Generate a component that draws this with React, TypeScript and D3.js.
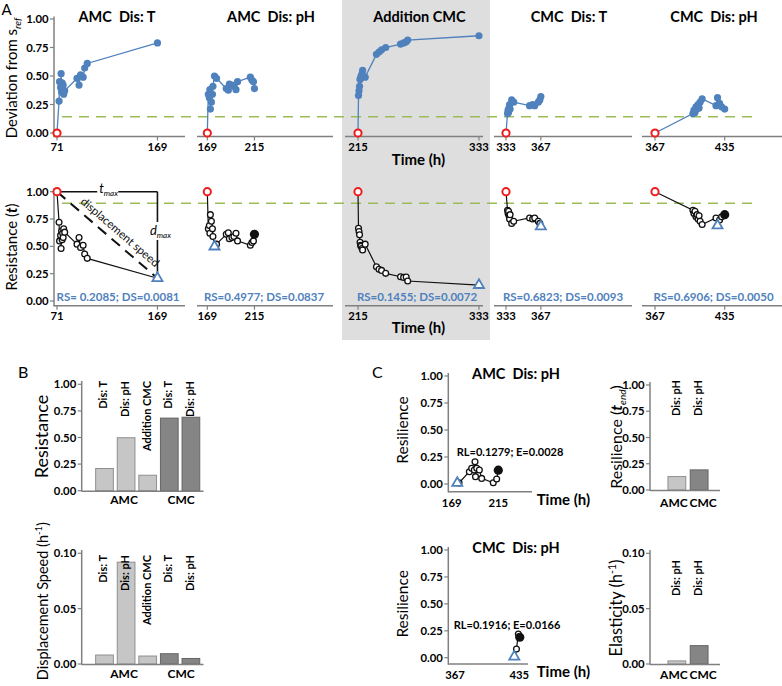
import React from "react";
import * as d3 from "d3";

const FONT = "Lato, 'Open Sans', sans-serif";
const BLUE = "#4f81bd";
const RED = "#ee1c1c";
const GREEN = "#9bbb59";
const AXIS = "#808080";
const LIGHT = "#c6c6c6";
const DARK = "#858585";

// ---------- panel A: deviation from s_ref and resistance over time ----------
const panelNames = ["AMC  Dis: T", "AMC  Dis: pH", "Addition CMC", "CMC  Dis: T", "CMC  Dis: pH"];
const panelStart = [71, 169, 215, 333, 367];
const panelEnd = [169, 215, 333, 367, 435];

const time1 = [71, 73, 73.5, 74.5, 75, 75.5, 76, 76.5, 77, 77.5, 78.5, 90.5, 92.5, 94, 96.5, 98, 100.5, 169];
const dev1 = [0, 0.28, 0.45, 0.4, 0.52, 0.36, 0.44, 0.38, 0.42, 0.34, 0.37, 0.48, 0.42, 0.51, 0.49, 0.57, 0.61, 0.79];
const res1 = [1, 0.72, 0.55, 0.6, 0.48, 0.64, 0.56, 0.62, 0.58, 0.66, 0.63, 0.52, 0.58, 0.49, 0.51, 0.43, 0.39, 0.2085];

const time2 = [169, 170, 171, 171.5, 172, 173, 174, 174.5, 176, 178, 187.5, 189.5, 190.5, 193, 195, 197, 198.5, 211, 212.5, 214, 215];
const dev2 = [0, 0.34, 0.31, 0.38, 0.21, 0.27, 0.34, 0.41, 0.5, 0.48, 0.39, 0.375, 0.43, 0.42, 0.41, 0.38, 0.45, 0.49, 0.465, 0.45, 0.39];
const res2 = [1, 0.66, 0.69, 0.62, 0.79, 0.73, 0.66, 0.59, 0.4977, 0.52, 0.61, 0.625, 0.57, 0.58, 0.59, 0.62, 0.55, 0.51, 0.535, 0.55, 0.61];

const time3 = [215, 215.5, 216, 216.5, 217, 217.5, 218, 219, 219.5, 222, 233, 235.5, 238, 242, 256.5, 259.5, 262, 263.5, 333];
const dev3 = [0, 0.33, 0.37, 0.41, 0.47, 0.48, 0.5, 0.52, 0.55, 0.49, 0.69, 0.71, 0.73, 0.75, 0.78, 0.79, 0.8, 0.815, 0.853];
const res3 = [1, 0.665, 0.635, 0.605, 0.537, 0.51, 0.5, 0.48, 0.466, 0.52, 0.314, 0.29, 0.28, 0.253, 0.222, 0.216, 0.22, 0.183, 0.1455];

const time4 = [333, 334.5, 335, 335.5, 336, 336.5, 337, 338.5, 340.5, 356, 359, 361, 364.5, 366, 367];
const dev4 = [0, 0.17, 0.2, 0.18, 0.22, 0.25, 0.21, 0.29, 0.27, 0.24, 0.25, 0.24, 0.27, 0.29, 0.32];
const res4 = [1, 0.83, 0.8, 0.82, 0.78, 0.75, 0.79, 0.71, 0.73, 0.76, 0.75, 0.76, 0.73, 0.71, 0.6823];

const time5 = [367, 404, 405, 406, 407, 408, 409, 410, 411, 413, 426.5, 428, 430, 432, 435];
const dev5 = [0, 0.17, 0.2, 0.18, 0.23, 0.21, 0.25, 0.22, 0.27, 0.3, 0.24, 0.31, 0.26, 0.23, 0.21];
const res5 = [1, 0.83, 0.8, 0.82, 0.77, 0.79, 0.75, 0.78, 0.73, 0.7, 0.76, 0.6906, 0.74, 0.77, 0.79];

const rsLabels = [
  "RS= 0.2085; DS=0.0081",
  "RS=0.4977; DS=0.0837",
  "RS=0.1455; DS=0.0072",
  "RS=0.6823; DS=0.0093",
  "RS=0.6906; DS=0.0050",
];
const devThreshold = 0.143;
const resThreshold = 0.894;

// ---------- panel B: resistance and displacement speed ----------
const barNames = ["Dis: T", "Dis: pH", "Addition CMC", "Dis: T", "Dis: pH"];
const barSystems = ["AMC", "AMC", "AMC", "CMC", "CMC"];
const resistanceValues = [0.2085, 0.4977, 0.1455, 0.6823, 0.6906];
const speedValues = [0.0081, 0.092, 0.0072, 0.0093, 0.005];

// ---------- panel C: resilience and elasticity ----------
const cTitles = ["AMC  Dis: pH", "CMC  Dis: pH"];
const cTimeTicks = [[169, 215], [367, 435]];
const resilTime1 = [174.5, 176.2, 186.4, 188.7, 191.3, 192, 192.5, 193.7, 196.3, 198.6, 210, 213.4, 215];
const resil1 = [0, 0.01, 0.114, 0.145, 0.13, 0.206, 0.068, 0.145, 0.13, 0.052, 0.012, 0.046, 0.128];
const resilTime2 = [429.7, 432, 434, 435.5];
const resil2 = [0, 0.08, 0.22, 0.19];
const rlLabels = ["RL=0.1279; E=0.0028", "RL=0.1916; E=0.0166"];
const cGroups = ["AMC", "CMC"];
const resilEndValues = [0.1279, 0.1916];
const elasticityValues = [0.0028, 0.0166];

const series = [
  { time: time1, dev: dev1, res: res1 },
  { time: time2, dev: dev2, res: res2 },
  { time: time3, dev: dev3, res: res3 },
  { time: time4, dev: dev4, res: res4 },
  { time: time5, dev: dev5, res: res5 },
];
const resilSeries = [
  { time: resilTime1, val: resil1 },
  { time: resilTime2, val: resil2 },
];

// layout
const startPx = [57, 207.3, 358, 506, 655];
const HOUR_PX = 1.025;
const axisSpan = [[54, 185], [197, 333], [345, 483], [494, 632], [642, 782]];
const titleX = [117, 271, 419.5, 569, 714];
const rsX = [118, 264, 417, 563, 713.5];
const TOP_AXIS_Y = 136.5;
const BOT_AXIS_Y = 305.7;
const PRE = { whiteSpace: "pre" } as any;

const yDev = d3.scaleLinear().domain([0, 1]).range([133, 19]);
const yRes = d3.scaleLinear().domain([0, 1]).range([301, 191.7]);
const fmt2 = d3.format(".2f");
const tri = d3.symbol(d3.symbolTriangle, 44)() as string;

function YAxis({ x, scale, ticks, top, bottom }: any) {
  return (
    <g>
      <line x1={x} x2={x} y1={top} y2={bottom} stroke={AXIS} strokeWidth={1.5} />
      {ticks.map((t: number) => (
        <g key={t}>
          <line x1={x - 4} x2={x} y1={scale(t)} y2={scale(t)} stroke={AXIS} strokeWidth={1.2} />
          <text x={x - 5.5} y={scale(t)} dy="0.36em" textAnchor="end" fontSize={11.3} fontWeight="bold">
            {fmt2(t)}
          </text>
        </g>
      ))}
    </g>
  );
}

function TimeAxis({ x, ticks, y, x0, x1 }: any) {
  return (
    <g>
      <line x1={x0} x2={x1} y1={y} y2={y} stroke={AXIS} strokeWidth={1.5} />
      {ticks.map((t: number) => (
        <g key={t}>
          <line x1={x(t)} x2={x(t)} y1={y} y2={y + 4} stroke={AXIS} strokeWidth={1.2} />
          <text x={x(t)} y={y + 14.5} textAnchor="middle" fontSize={11.3} fontWeight="bold">
            {t}
          </text>
        </g>
      ))}
    </g>
  );
}

function SeriesPanel({ i }: { i: number }) {
  const s = series[i];
  const x = d3
    .scaleLinear()
    .domain([panelStart[i], panelEnd[i]])
    .range([startPx[i], startPx[i] + HOUR_PX * (panelEnd[i] - panelStart[i])]);
  const devLine = d3.line<number>().x((_, j) => x(s.time[j])).y((d) => yDev(d));
  const resLine = d3.line<number>().x((_, j) => x(s.time[j])).y((d) => yRes(d));
  const minIdx = d3.minIndex(s.res);
  const last = s.res.length - 1;
  const ticks = [panelStart[i], panelEnd[i]];

  // annotation for the first panel
  let notes = null;
  if (i === 0) {
    const ax0 = x(s.time[0]);
    const ay0 = yRes(s.res[0]);
    const ax1 = x(s.time[minIdx]);
    const ay1 = yRes(s.res[minIdx]);
    const ang = (Math.atan2(ay1 - ay0, ax1 - ax0) * 180) / Math.PI;
    const len = Math.hypot(ax1 - ax0, ay1 - ay0);
    const ux = (ax1 - ax0) / len;
    const uy = (ay1 - ay0) / len;
    const f = 0.56;
    const tx = ax0 + (ax1 - ax0) * f + uy * 6.5;
    const ty = ay0 + (ay1 - ay0) * f - ux * 6.5;
    const midX = (ax0 + ax1) / 2;
    const midY = (ay0 + ay1) / 2 - 3;
    notes = (
      <g>
        <line x1={ax0} x2={ax1} y1={ay0} y2={ay0} stroke="#111" strokeWidth={1.6} />
        <line x1={ax1} x2={ax1} y1={ay0} y2={ay1} stroke="#111" strokeWidth={1.6} />
        <line x1={ax0} x2={ax1} y1={ay0} y2={ay1} stroke="#111" strokeWidth={2} strokeDasharray="11 7" />
        <rect x={midX - 10} y={ay0 - 7} width={21} height={13} fill="white" />
        <text x={midX - 8} y={ay0 + 1} fontSize={13} fontStyle="italic">
          t<tspan fontSize={8} dy={3}>max</tspan>
        </text>
        <rect x={ax1 - 8} y={midY - 10} width={17} height={18} fill="white" />
        <text x={ax1 - 7.5} y={midY + 3} fontSize={13} fontStyle="italic">
          d<tspan fontSize={8} dy={3}>max</tspan>
        </text>
        <text
          transform={`translate(${tx},${ty}) rotate(${ang})`}
          textAnchor="middle"
          fontSize={11.5}
          fill="#111"
        >
          displacement speed
        </text>
      </g>
    );
  }

  return (
    <g>
      <text x={titleX[i]} y={22} textAnchor="middle" fontWeight="bold" fontSize={14.5} style={PRE}>
        {panelNames[i]}
      </text>
      <TimeAxis x={x} ticks={ticks} y={TOP_AXIS_Y} x0={axisSpan[i][0]} x1={axisSpan[i][1]} />
      <TimeAxis x={x} ticks={ticks} y={BOT_AXIS_Y} x0={axisSpan[i][0]} x1={axisSpan[i][1]} />

      {/* deviation */}
      <path d={devLine(s.dev) as string} fill="none" stroke={BLUE} strokeWidth={1.3} />
      {s.dev.map((d, j) =>
        j === 0 ? null : <circle key={j} cx={x(s.time[j])} cy={yDev(d)} r={3.6} fill={BLUE} />
      )}
      <circle cx={x(s.time[0])} cy={yDev(s.dev[0])} r={3.6} fill="white" stroke={RED} strokeWidth={2} />

      {/* resistance */}
      {notes}
      <path d={resLine(s.res) as string} fill="none" stroke="#111" strokeWidth={1.2} />
      {s.res.map((d, j) =>
        j === 0 || j === minIdx || j === last ? null : (
          <circle key={j} cx={x(s.time[j])} cy={yRes(d)} r={2.9} fill="white" stroke="#111" strokeWidth={1.3} />
        )
      )}
      {last !== minIdx && <circle cx={x(s.time[last])} cy={yRes(s.res[last])} r={4.6} fill="#111" />}
      <path
        d={tri}
        transform={`translate(${x(s.time[minIdx])},${yRes(s.res[minIdx])})`}
        fill="white"
        stroke={BLUE}
        strokeWidth={1.8}
      />
      <circle cx={x(s.time[0])} cy={yRes(s.res[0])} r={3.6} fill="white" stroke={RED} strokeWidth={2} />

      <text x={rsX[i]} y={300.5} textAnchor="middle" fill={BLUE} fontSize={11.5} fontWeight="bold">
        {rsLabels[i]}
      </text>
    </g>
  );
}

function BarChart({ values, names, groups, y, ticks, axisTop, x0, x1, range, pad, labelTop, groupY, groupPos }: any) {
  const n = values.length;
  const xb = d3.scaleBand<number>().domain(d3.range(n)).range(range).paddingInner(pad[0]).paddingOuter(pad[1]);
  const base = y(0);
  return (
    <g>
      {values.map((v: number, k: number) => (
        <rect
          key={k}
          x={xb(k)}
          y={y(v)}
          width={xb.bandwidth()}
          height={base - y(v)}
          fill={groups[k] === "AMC" ? LIGHT : DARK}
          stroke={groups[k] === "AMC" ? "#8f8f8f" : "#666"}
          strokeWidth={1}
        />
      ))}
      <YAxis x={x0} scale={y} ticks={ticks} top={axisTop} bottom={base + 0.8} />
      <line x1={x0} x2={x1} y1={base + 0.5} y2={base + 0.5} stroke={AXIS} strokeWidth={1.5} />
      {names.map((nm: string, k: number) => (
        <text
          key={k}
          transform={`translate(${(xb(k) as number) + xb.bandwidth() / 2 - 1},${labelTop}) rotate(-90)`}
          textAnchor="end"
          dy="0.36em"
          fontSize={11}
          fontWeight="bold"
        >
          {nm}
        </text>
      ))}
      {groupPos.map((g: any) => {
        const cx = (xb(g.from) as number) / 2 + ((xb(g.to) as number) + xb.bandwidth()) / 2;
        return (
          <text key={g.name} x={cx + g.shift} y={groupY} textAnchor="middle" fontSize={12} fontWeight="bold">
            {g.name}
          </text>
        );
      })}
    </g>
  );
}

function ResilPanel({ k }: { k: number }) {
  const s = resilSeries[k];
  const tickPx = k === 0 ? [451.7, 498.3] : [455, 519.3];
  const yr = k === 0 ? [484, 376] : [657.7, 550];
  const axisY = k === 0 ? 491.7 : 664;
  const axisEnd = k === 0 ? 532 : 528;
  const axisTop = k === 0 ? 373 : 547;
  const x = d3.scaleLinear().domain(cTimeTicks[k]).range(tickPx);
  const y = d3.scaleLinear().domain([0, 1]).range(yr);
  const ln = d3.line<number>().x((_, j) => x(s.time[j])).y((d) => y(d));
  const last = s.val.length - 1;
  return (
    <g>
      <text x={516} y={axisTop + 6} textAnchor="middle" fontWeight="bold" fontSize={14.5} style={PRE}>
        {cTitles[k]}
      </text>
      <YAxis x={448.3} scale={y} ticks={[0, 0.25, 0.5, 0.75, 1]} top={axisTop} bottom={axisY + 0.8} />
      <line x1={448.3} x2={axisEnd} y1={axisY} y2={axisY} stroke={AXIS} strokeWidth={1.5} />
      {cTimeTicks[k].map((t) => (
        <text key={t} x={x(t)} y={axisY + 15} textAnchor="middle" fontSize={11.3} fontWeight="bold">
          {t}
        </text>
      ))}
      <text x={563.4} y={axisY + 13} textAnchor="middle" fontSize={15} fontWeight="bold">
        Time (h)
      </text>
      <text x={k === 0 ? 510 : 507} y={k === 0 ? 455.5 : 629} textAnchor="middle" fontSize={11} fontWeight="bold">
        {rlLabels[k]}
      </text>
      <text
        transform={`translate(407.5,${(yr[0] + yr[1]) / 2}) rotate(-90)`}
        textAnchor="middle"
        fontSize={15.5}
      >
        Resilience
      </text>
      <path d={ln(s.val) as string} fill="none" stroke="#111" strokeWidth={1.2} />
      {s.val.map((d, j) =>
        j === 0 || j === last ? null : (
          <circle key={j} cx={x(s.time[j])} cy={y(d)} r={2.9} fill="white" stroke="#111" strokeWidth={1.3} />
        )
      )}
      <circle cx={x(s.time[last])} cy={y(s.val[last])} r={4.6} fill="#111" />
      <path
        d={tri}
        transform={`translate(${x(s.time[0])},${y(s.val[0]) - 1})`}
        fill="white"
        stroke={BLUE}
        strokeWidth={1.8}
      />
    </g>
  );
}

export default function App() {
  const yB1 = d3.scaleLinear().domain([0, 1]).range([490.7, 384.3]);
  const yB2 = d3.scaleLinear().domain([0, 0.1]).range([664, 553.3]);
  const yC1 = d3.scaleLinear().domain([0, 1]).range([490, 385]);
  const yC2 = d3.scaleLinear().domain([0, 0.1]).range([664, 553.3]);
  const bGroups = [
    { name: "AMC", from: 1, to: 1, shift: -2 },
    { name: "CMC", from: 3, to: 4, shift: 1 },
  ];
  const cGroupPos = [
    { name: "AMC", from: 0, to: 0, shift: -3 },
    { name: "CMC", from: 1, to: 1, shift: 4 },
  ];
  return (
    <svg
      width={782}
      height={686}
      style={{ position: "absolute", left: 0, top: 0, display: "block", background: "white" }}
      fontFamily={FONT}
    >
      <rect x={0} y={0} width={782} height={686} fill="white" />
      {/* highlighted Addition CMC column */}
      <rect x={342} y={0} width={148} height={340} fill="#dedede" />

      {/* panel letters */}
      <text x={1.5} y={14.5} fontSize={15}>A</text>
      <text x={18} y={378} fontSize={16}>B</text>
      <text x={372} y={378} fontSize={16}>C</text>

      {/* thresholds */}
      <line x1={62} x2={755} y1={yDev(devThreshold)} y2={yDev(devThreshold)} stroke={GREEN} strokeWidth={1.6} strokeDasharray="10 7" />
      <line x1={62} x2={755} y1={yRes(resThreshold)} y2={yRes(resThreshold)} stroke={GREEN} strokeWidth={1.6} strokeDasharray="10 7" />

      {/* y axes of panel A */}
      <YAxis x={54} scale={yDev} ticks={[0, 0.25, 0.5, 0.75, 1]} top={16.5} bottom={TOP_AXIS_Y + 0.8} />
      <YAxis x={54} scale={yRes} ticks={[0, 0.25, 0.5, 0.75, 1]} top={188} bottom={BOT_AXIS_Y + 0.8} />
      <text transform="translate(16.5,78) rotate(-90)" textAnchor="middle" fontSize={15}>
        Deviation from s<tspan fontSize={10} fontStyle="italic" dy={4}>ref</tspan>
      </text>
      <text transform="translate(16.5,247) rotate(-90)" textAnchor="middle" fontSize={15}>
        Resistance (<tspan fontWeight="bold" fontStyle="italic">t</tspan>)
      </text>

      {series.map((_, i) => (
        <SeriesPanel key={i} i={i} />
      ))}

      <text x={418.5} y={164.5} textAnchor="middle" fontSize={15} fontWeight="bold">Time (h)</text>
      <text x={418.5} y={333} textAnchor="middle" fontSize={15} fontWeight="bold">Time (h)</text>

      {/* panel B */}
      <BarChart
        values={resistanceValues}
        names={barNames}
        groups={barSystems}
        y={yB1}
        ticks={[0, 0.25, 0.5, 0.75, 1]}
        axisTop={381}
        x0={81.7}
        x1={203.5}
        range={[93.7, 201.7]}
        pad={[0.18, 0.09]}
        labelTop={381}
        groupY={503.5}
        groupPos={bGroups}
      />
      <BarChart
        values={speedValues}
        names={barNames}
        groups={barSystems}
        y={yB2}
        ticks={[0, 0.05, 0.1]}
        axisTop={550}
        x0={81.7}
        x1={203.5}
        range={[93.7, 201.7]}
        pad={[0.18, 0.09]}
        labelTop={555}
        groupY={677.5}
        groupPos={bGroups}
      />
      <text transform="translate(48,436.5) rotate(-90)" textAnchor="middle" fontSize={18}>
        Resistance
      </text>
      <text transform="translate(48,522) rotate(-90)" textAnchor="end" fontSize={14.5}>
        Displacement Speed (h<tspan fontSize={9.5} dy={-6}>-1</tspan><tspan dy={6}>)</tspan>
      </text>

      {/* panel C */}
      <ResilPanel k={0} />
      <ResilPanel k={1} />
      <BarChart
        values={resilEndValues}
        names={["Dis: pH", "Dis: pH"]}
        groups={cGroups}
        y={yC1}
        ticks={[0, 0.25, 0.5, 0.75, 1]}
        axisTop={382}
        x0={650}
        x1={720}
        range={[663.5, 712.5]}
        pad={[0.2, 0.2]}
        labelTop={380}
        groupY={506.5}
        groupPos={cGroupPos}
      />
      <BarChart
        values={elasticityValues}
        names={["Dis: pH", "Dis: pH"]}
        groups={cGroups}
        y={yC2}
        ticks={[0, 0.05, 0.1]}
        axisTop={550}
        x0={650}
        x1={720}
        range={[663.5, 712.5]}
        pad={[0.2, 0.2]}
        labelTop={560}
        groupY={679}
        groupPos={cGroupPos}
      />
      <text transform="translate(622,437) rotate(-90)" textAnchor="middle" fontSize={16}>
        Resilience (<tspan fontWeight="bold" fontStyle="italic">t</tspan>
        <tspan fontSize={10} fontStyle="italic" dy={4}>end</tspan>
        <tspan dy={-4}>)</tspan>
      </text>
      <text transform="translate(622,608) rotate(-90)" textAnchor="middle" fontSize={16.5}>
        Elasticity (h<tspan fontSize={10.5} dy={-6}>-1</tspan><tspan dy={6}>)</tspan>
      </text>
    </svg>
  );
}
